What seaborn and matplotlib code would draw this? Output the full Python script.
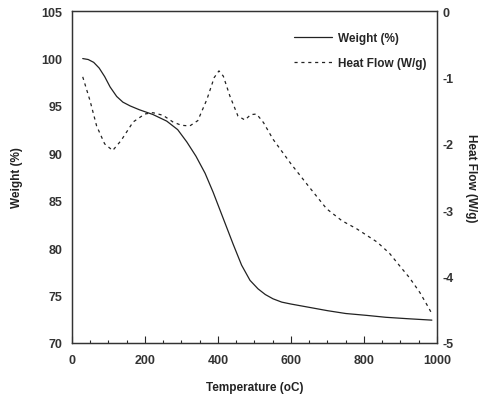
import numpy as np
import pandas as pd
import matplotlib.pyplot as plt
import seaborn as sns

# Values
weight_temp = [30, 45, 60, 75, 90, 105, 123, 140, 160, 185, 222, 260, 290, 315, 340,
               365, 387, 400, 420, 442, 465, 488, 510, 530, 551, 575, 600, 643, 700,
               750, 808, 860, 920, 986]
weight_pct = [100.0, 99.9, 99.6, 99.0, 98.1, 97.0, 96.0, 95.4, 95.0, 94.6, 94.1, 93.4,
              92.5, 91.2, 89.7, 87.9, 85.9, 84.6, 82.6, 80.4, 78.2, 76.6, 75.7, 75.1,
              74.65, 74.3, 74.1, 73.8, 73.4, 73.1, 72.9, 72.7, 72.55, 72.4]

heat_temp = [30, 50, 68, 90, 112, 135, 168, 200, 222, 250, 277, 300, 323, 345, 370, 390,
             403, 415, 433, 455, 474, 490, 506, 525, 551, 600, 650, 698, 740, 780,
             836, 870, 898, 925, 953, 975, 986]
heat_flow = [-0.99, -1.35, -1.73, -2.0, -2.1, -1.95, -1.67, -1.55, -1.53, -1.57, -1.67,
             -1.72, -1.73, -1.65, -1.33, -1.0, -0.9, -0.98, -1.28, -1.58, -1.64, -1.56,
             -1.55, -1.68, -1.93, -2.3, -2.65, -2.98, -3.16, -3.28, -3.48, -3.65, -3.84,
             -4.02, -4.24, -4.45, -4.56]

df_w = pd.DataFrame({'Temperature': weight_temp, 'Weight': weight_pct})
df_h = pd.DataFrame({'Temperature': heat_temp, 'HeatFlow': heat_flow})

sns.set_style('white')
plt.rcParams['font.family'] = ['Liberation Sans', 'DejaVu Sans']

fig, ax = plt.subplots(figsize=(4.85, 4.06), dpi=100)
fig.subplots_adjust(left=0.148, right=0.901, top=0.970, bottom=0.153)

sns.lineplot(x='Temperature', y='Weight', data=df_w, ax=ax, color='#222222',
             linewidth=0.9, label='Weight (%)', legend=False)

ax2 = ax.twinx()
sns.lineplot(x='Temperature', y='HeatFlow', data=df_h, ax=ax2, color='#222222',
             linewidth=0.9, linestyle=(0, (2.5, 3)), label='Heat Flow (W/g)', legend=False)

ax.set_xlim(0, 1000)
ax.set_ylim(70, 105)
ax2.set_ylim(-5, 0)
ax.set_xticks([0, 200, 400, 600, 800, 1000])
ax.set_xticks(np.arange(0, 1001, 50), minor=True)
ax.set_yticks([70, 75, 80, 85, 90, 95, 100, 105])
ax2.set_yticks([0, -1, -2, -3, -4, -5])
ax2.set_yticklabels(['0', '-1', '-2', '-3', '-4', '-5'])

ax.tick_params(axis='x', which='major', direction='in', length=5, width=0.8,
               labelsize=9, pad=8, bottom=True)
ax.tick_params(axis='x', which='minor', direction='in', length=2.5, width=0.8, bottom=True)
ax.tick_params(axis='y', length=0, labelsize=9, pad=7)
ax2.tick_params(axis='y', length=0, labelsize=9, pad=4)
for lbl in ax.get_xticklabels() + ax.get_yticklabels() + ax2.get_yticklabels():
    lbl.set_fontweight('bold')
    lbl.set_color('#333333')

for a in (ax, ax2):
    for s in a.spines.values():
        s.set_color('#333333')
        s.set_linewidth(0.9)

ax.set_xlabel('Temperature (oC)', fontsize=8.5, fontweight='bold', labelpad=11,
              color='#222222')
ax.set_ylabel('Weight (%)', fontsize=8.5, fontweight='bold', labelpad=13,
              color='#222222')
ax2.set_ylabel('Heat Flow (W/g)', fontsize=8.5, fontweight='bold', rotation=270,
               labelpad=17, color='#222222')

h1, l1 = ax.get_legend_handles_labels()
h2, l2 = ax2.get_legend_handles_labels()
leg = ax.legend(h1 + h2, l1 + l2, loc='upper right', frameon=False,
                prop={'size': 8.5, 'weight': 'bold'},
                handlelength=3.2, handletextpad=0.5, labelspacing=1.1,
                bbox_to_anchor=(1.0, 0.97))

plt.savefig('out.png', dpi=100)
